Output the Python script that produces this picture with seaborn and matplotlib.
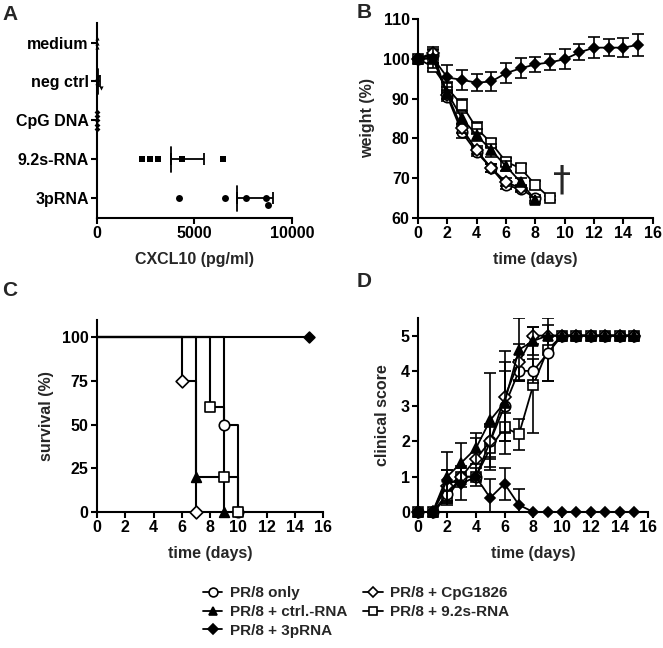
import matplotlib
matplotlib.use('Agg')
import matplotlib.pyplot as plt
from matplotlib.lines import Line2D
import numpy as np
import pandas as pd
import seaborn as sns

# ---- panel A: CXCL10 secretion ----
conditions = ['medium', 'neg ctrl', 'CpG DNA', '9.2s-RNA', '3pRNA']
cxcl10_medium = [0, 0, 0]
cxcl10_negctrl = [0, 0, 40, 180]
cxcl10_cpg = [0, 0, 0, 0, 0]
cxcl10_92s = [2300, 2720, 3130, 4360, 6460]
cxcl10_3p = [4200, 6550, 7640, 8650, 8750]
cxcl10_markers = ['^', 'v', 'D', 's', 'o']

# ---- shared group names ----
groups = ['PR/8 only', 'PR/8 + ctrl.-RNA', 'PR/8 + 3pRNA', 'PR/8 + CpG1826', 'PR/8 + 9.2s-RNA']

# ---- panel B: weight (%) ----
weight_pr8 = [100, 101, 90.5, 81.5, 76.5, 72.5, 68.2, 67.3, 65.0]
weight_pr8_err = [0, 1.2, 1.0, 1.5, 1.0, 1.0, 1.0, 0.8, 0.8]
weight_ctrl = [100, 100, 91.5, 85.0, 80.8, 77.0, 73.0, 69.0, 64.5]
weight_ctrl_err = [0, 1.0, 1.5, 1.5, 1.5, 1.7, 1.2, 1.0, 0.8]
weight_3p = [100, 100.3, 95.3, 94.7, 94.0, 94.3, 96.4, 97.6, 98.6, 99.1, 99.9, 101.6, 102.8, 102.8, 102.8, 103.5]
weight_3p_err = [0, 2.6, 3.1, 2.5, 2.2, 2.4, 2.5, 2.5, 1.9, 2.0, 2.5, 2.0, 2.6, 2.2, 2.3, 2.7]
weight_cpg = [100, 101.5, 91.0, 82.5, 77.0, 72.5, 69.0, 67.5]
weight_cpg_err = [0, 1.0, 1.0, 1.2, 1.0, 1.0, 1.0, 0.8]
weight_92s = [100, 98, 92.6, 88.4, 82.5, 78.8, 74.1, 72.5, 68.3, 65.0]
weight_92s_err = [0, 1.0, 1.5, 1.5, 1.5, 1.0, 1.0, 1.0, 1.0, 0.5]

# ---- panel C: survival (%) ----
surv_days_pr8, surv_pr8 = [0, 9, 10], [100, 50, 0]
surv_days_ctrl, surv_ctrl = [0, 7, 9], [100, 20, 0]
surv_days_3p, surv_3p = [0, 15], [100, 100]
surv_days_cpg, surv_cpg = [0, 6, 7], [100, 75, 0]
surv_days_92s, surv_92s = [0, 8, 9, 10], [100, 60, 20, 0]

# ---- panel D: clinical score ----
score_pr8 = [0, 0, 0.5, 1.0, 1.0, 2.0, 3.0, 4.0, 4.0, 4.5, 5, 5, 5, 5, 5, 5]
score_pr8_err = [0, 0, 0.25, 0.3, 0.25, 0.45, 1.0, 0.3, 0.35, 0.8, 0, 0, 0, 0, 0, 0]
score_ctrl = [0, 0, 1.0, 1.4, 1.8, 2.6, 3.1, 4.6, 4.85, 5, 5, 5, 5, 5, 5, 5]
score_ctrl_err = [0, 0, 0.7, 0.55, 0.45, 1.33, 1.45, 0.9, 0.4, 0, 0, 0, 0, 0, 0, 0]
score_3p = [0, 0, 0.9, 0.8, 1.0, 0.4, 0.8, 0.2, 0, 0, 0, 0, 0, 0, 0, 0]
score_3p_err = [0, 0, 0.3, 0.45, 0, 0.53, 0.45, 0.45, 0, 0, 0, 0, 0, 0, 0, 0]
score_cpg = [0, 0, 0.75, 1.0, 1.5, 2.0, 3.25, 4.25, 5.0, 5, 5, 5, 5, 5, 5, 5]
score_cpg_err = [0, 0, 0.45, 0, 0.6, 0.5, 1.0, 0.5, 0.25, 0, 0, 0, 0, 0, 0, 0]
score_92s = [0, 0, 0.4, 1.0, 1.0, 1.8, 2.4, 2.2, 3.6, 4.6, 5, 5, 5, 5, 5, 5]
score_92s_err = [0, 0, 0.2, 0, 0, 0.6, 0.4, 0.45, 1.35, 0.9, 0, 0, 0, 0, 0, 0]

# marker style per group (same order as groups)
g_marker = ['o', '^', 'D', 'D', 's']
g_face = ['white', 'black', 'black', 'white', 'white']
g_size = [7.5, 7, 5.5, 6.5, 7.5]

sns.set_theme(style='ticks')
plt.rcParams['font.family'] = ['Liberation Sans', 'DejaVu Sans']
plt.rcParams['font.weight'] = 'bold'
plt.rcParams['axes.labelweight'] = 'bold'
plt.rcParams['axes.linewidth'] = 1.5
plt.rcParams['xtick.major.width'] = 1.5
plt.rcParams['ytick.major.width'] = 1.5
plt.rcParams['xtick.major.size'] = 4
plt.rcParams['ytick.major.size'] = 4
plt.rcParams['xtick.color'] = 'black'
plt.rcParams['ytick.color'] = 'black'
plt.rcParams['axes.edgecolor'] = 'black'
FS = 11.5

fig = plt.figure(figsize=(6.63, 6.48), dpi=100)
axA = fig.add_axes([0.1463, 0.6636, 0.2941, 0.3009])
axB = fig.add_axes([0.6305, 0.6636, 0.354, 0.3071])
axC = fig.add_axes([0.1463, 0.2099, 0.3409, 0.2963])
axD = fig.add_axes([0.6309, 0.2099, 0.3469, 0.2994])


def style_axis(ax):
    sns.despine(ax=ax)
    ax.tick_params(labelsize=FS, colors='black', pad=2)
    for lab in ax.get_xticklabels() + ax.get_yticklabels():
        lab.set_fontweight('bold')


# ---- A ----
cxcl_lists = [cxcl10_medium, cxcl10_negctrl, cxcl10_cpg, cxcl10_92s, cxcl10_3p]
cxcl_df = pd.DataFrame({
    'condition': np.repeat(conditions, [len(v) for v in cxcl_lists]),
    'value': np.concatenate(cxcl_lists),
})
for i, cond in enumerate(conditions):
    sub = cxcl_df[cxcl_df['condition'] == cond]
    size = 5 if i >= 3 else 3
    sns.swarmplot(data=sub, x='value', y='condition', order=conditions, orient='h',
                  marker=cxcl10_markers[i], size=size, color='black', ax=axA)
    m = sub['value'].mean()
    sd = sub['value'].std(ddof=1)
    axA.plot([m, m], [i - 0.33, i + 0.33], color='black', lw=1.3, clip_on=False)
    axA.errorbar([m], [i], xerr=[[0], [sd]], fmt='none', ecolor='black',
                 elinewidth=1.3, capsize=4.5, capthick=1.3, clip_on=False)
for coll in axA.collections:
    coll.set_clip_on(False)
axA.set_xlim(0, 10000)
axA.set_ylim(4.5, -0.5)
axA.set_xticks([0, 5000, 10000])
axA.set_xlabel('CXCL10 (pg/ml)', fontsize=FS, labelpad=8)
axA.set_ylabel('')
style_axis(axA)

# ---- B ----
weights = [weight_pr8, weight_ctrl, weight_3p, weight_cpg, weight_92s]
weight_errs = [weight_pr8_err, weight_ctrl_err, weight_3p_err, weight_cpg_err, weight_92s_err]
for k in [4, 0, 3, 1, 2]:
    days = np.arange(len(weights[k]))
    axB.errorbar(days, weights[k], yerr=weight_errs[k], fmt='none', ecolor='black',
                 elinewidth=1.2, capsize=4, capthick=1.2)
    sns.lineplot(x=days, y=weights[k], ax=axB, color='black', linewidth=1.3,
                 marker=g_marker[k], markersize=g_size[k], markerfacecolor=g_face[k],
                 markeredgecolor='black', markeredgewidth=1.2, clip_on=False,
                 errorbar=None, legend=False)
axB.text(9.8, 69.3, '\u2020', fontsize=26, fontweight='normal', ha='center', va='center',
         family='DejaVu Sans')
axB.set_xlim(0, 16)
axB.set_ylim(60, 110)
axB.set_xticks(range(0, 17, 2))
axB.set_yticks(range(60, 111, 10))
axB.set_xlabel('time (days)', fontsize=FS, labelpad=8)
axB.set_ylabel('weight (%)', fontsize=FS, labelpad=6)
style_axis(axB)

# ---- C ----
surv_days = [surv_days_pr8, surv_days_ctrl, surv_days_3p, surv_days_cpg, surv_days_92s]
survs = [surv_pr8, surv_ctrl, surv_3p, surv_cpg, surv_92s]
for k in [2, 3, 1, 0, 4]:
    sns.lineplot(x=surv_days[k], y=survs[k], ax=axC, color='black', linewidth=1.5,
                 drawstyle='steps-post', clip_on=False, errorbar=None, legend=False)
for k in [2, 3, 1, 0, 4]:
    sns.scatterplot(x=surv_days[k][1:], y=survs[k][1:], ax=axC, marker=g_marker[k],
                    s=g_size[k] ** 2, color=g_face[k], edgecolor='black', linewidth=1.2,
                    clip_on=False, legend=False, zorder=3)
axC.set_xlim(0, 16)
axC.set_ylim(0, 110)
axC.set_xticks(range(0, 17, 2))
axC.set_yticks([0, 25, 50, 75, 100])
axC.set_xlabel('time (days)', fontsize=FS, labelpad=8)
axC.set_ylabel('survival (%)', fontsize=FS, labelpad=6)
style_axis(axC)

# ---- D ----
scores = [score_pr8, score_ctrl, score_3p, score_cpg, score_92s]
score_errs = [score_pr8_err, score_ctrl_err, score_3p_err, score_cpg_err, score_92s_err]
for k in [4, 0, 3, 1, 2]:
    days = np.arange(len(scores[k]))
    axD.errorbar(days, scores[k], yerr=score_errs[k], fmt='none', ecolor='black',
                 elinewidth=1.2, capsize=4, capthick=1.2)
    sns.lineplot(x=days, y=scores[k], ax=axD, color='black', linewidth=1.3,
                 marker=g_marker[k], markersize=g_size[k], markerfacecolor=g_face[k],
                 markeredgecolor='black', markeredgewidth=1.2, clip_on=False,
                 errorbar=None, legend=False)
axD.set_xlim(0, 16)
axD.set_ylim(0, 5.5)
axD.set_xticks(range(0, 17, 2))
axD.set_yticks(range(0, 6))
axD.set_xlabel('time (days)', fontsize=FS, labelpad=8)
axD.set_ylabel('clinical score', fontsize=FS, labelpad=8)
style_axis(axD)

# ---- panel letters ----
for letter, x, y in [('A', 2, 14), ('B', 357, 13), ('C', 2, 290), ('D', 357, 282)]:
    fig.text(x / 663, 1 - y / 648, letter, fontsize=15, fontweight='bold', va='center', ha='left')

# ---- legend ----
handles = [Line2D([], [], color='black', lw=1.3, marker=g_marker[k], markersize=g_size[k] * 0.85,
                  markerfacecolor=g_face[k], markeredgecolor='black', markeredgewidth=1.2)
           for k in range(5)]
fig.legend(handles, groups, ncol=2, loc='center', bbox_to_anchor=(356 / 663, 1 - 612 / 648),
           frameon=False, handlelength=1.3, columnspacing=1.0, labelspacing=0.3,
           handletextpad=0.5, prop={'size': 11, 'weight': 'bold'})

fig.savefig('out.png', dpi=100)
